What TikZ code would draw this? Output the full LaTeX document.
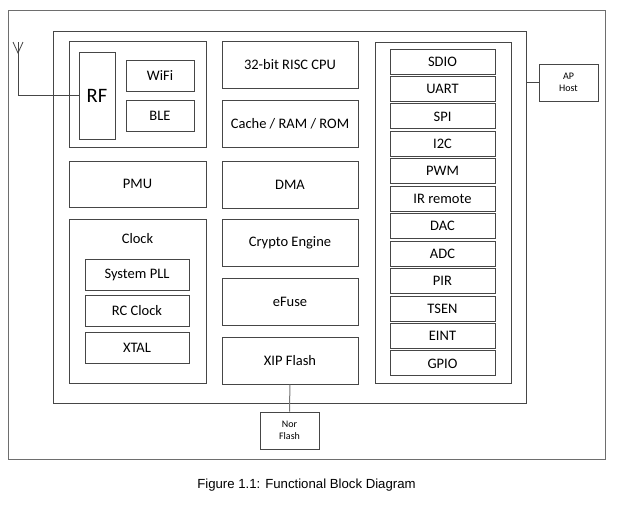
\documentclass[tikz,border=0pt]{standalone}
\usepackage{fontspec}
\setmainfont{Carlito}
\newfontfamily\capfont{Liberation Sans}
\usepackage{tikz}
\usetikzlibrary{arrows}

\definecolor{edgegray}{RGB}{70,70,70}
\definecolor{framegray}{RGB}{110,110,110}
\definecolor{linkgray}{RGB}{120,120,120}

\begin{document}
\begin{tikzpicture}[x=1pt,y=-1pt,-,thick,line width=1pt,
                    main node/.style={rectangle,draw=edgegray,inner sep=0pt,font=\fontsize{14.5}{16}\selectfont},
                    group/.style={draw=edgegray},
                    small node/.style={main node,font=\fontsize{10}{12}\selectfont,align=center}]

  \useasboundingbox (0,0) rectangle (619,507);

  %frames%
  \draw[framegray] (8,10) rectangle (605,459);
  \node[group,rectangle,inner sep=0pt,minimum width=473,minimum height=372] (chip) at (289.5,217) {};
  \draw[group] (69,41) rectangle (206,147);
  \draw[group] (69,219) rectangle (206,383);
  \draw[group] (375,42) rectangle (511,383);

  %RF%
  \node[main node,minimum width=36,minimum height=87,font=\fontsize{20.5}{22}\selectfont] (rf) at (97,95.5) {RF};
  \node[main node,minimum width=68,minimum height=31] (wifi) at (160,75.5) {WiFi};
  \node[main node,minimum width=68,minimum height=31] (ble) at (160,115.5) {BLE};

  %core%
  \node[main node,minimum width=136,minimum height=47] (cpu) at (290,65) {32-bit RISC CPU};
  \node[main node,minimum width=136,minimum height=47] (mem) at (290,123.5) {Cache / RAM / ROM};
  \node[main node,minimum width=136,minimum height=47] (dma) at (290,184.5) {DMA};
  \node[main node,minimum width=136,minimum height=47] (crypto) at (290,243) {Crypto Engine};
  \node[main node,minimum width=136,minimum height=47] (efuse) at (290,302) {eFuse};
  \node[main node,minimum width=136,minimum height=47] (xip) at (290,360.5) {XIP Flash};

  %PMU and clock%
  \node[main node,minimum width=137,minimum height=46] (pmu) at (137.5,184) {PMU};
  \node[font=\fontsize{14.5}{16}\selectfont] (clk) at (137.5,239) {Clock};
  \node[main node,minimum width=104,minimum height=31] (pll) at (137,274.5) {System PLL};
  \node[main node,minimum width=104,minimum height=31] (rc) at (137,310.5) {RC Clock};
  \node[main node,minimum width=104,minimum height=31] (xtal) at (137,347.5) {XTAL};

  %peripherals%
  \foreach \name [count=\i from 0] in {SDIO,UART,SPI,I2C,PWM,IR remote,DAC,ADC,PIR,TSEN,EINT,GPIO}
    \node[main node,minimum width=105,minimum height=25] (p\i) at (442.5,61.5+27.45*\i) {\name};

  %outside%
  \node[small node,minimum width=59,minimum height=37] (ap) at (568.5,82.5) {AP\\Host};
  \node[small node,minimum width=59,minimum height=37] (nor) at (289.5,430.5) {Nor\\Flash};
  \coordinate (ant) at (18,42);

  \draw[edgegray] (chip.east |- ap) -- (ap);
  \draw[linkgray] (xip) -- (nor);
  \draw[edgegray] (rf.west) -| (ant);
  \draw[edgegray,line width=0.8pt] (13,42) -- (18,53) -- (23,42);

  \node[font=\capfont\fontsize{13.2}{15}\selectfont] (cap) at (306.5,485) {Figure 1.1: Functional Block Diagram};
\end{tikzpicture}
\end{document}
